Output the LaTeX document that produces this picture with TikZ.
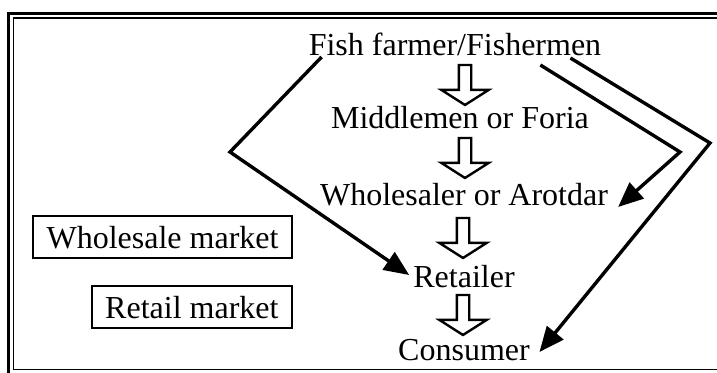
\documentclass[tikz,border=0pt]{standalone}
\usepackage{fontspec}
\setmainfont{Liberation Serif}
\usetikzlibrary{arrows.meta,shapes.arrows}

\tikzset{
  stage/.style={anchor=base,inner sep=0pt,font=\fontsize{32}{38}\selectfont},
  market/.style={draw,line width=2pt,anchor=base east,inner xsep=13.5pt,inner ysep=10pt,
    text height=22pt,text depth=0pt,font=\fontsize{32}{38}\selectfont},
  flow/.style={single arrow,draw,line width=2.4pt,shape border rotate=270,inner sep=5pt,
    minimum height=40pt,minimum width=47pt,single arrow head extend=17.5pt,single arrow tip angle=115},
  link/.style={line width=3.4pt,-{Triangle[length=25pt,width=21pt]}}
}

\begin{document}
\begin{tikzpicture}[x=1pt,y=-1pt]
  \useasboundingbox (0,0) rectangle (717,372);
  \draw[line width=3pt] (8.5,380) -- (8.5,13.5) -- (730,13.5);
  \draw[line width=1.8pt] (13.5,18) rectangle (730,369.5);
  \node[stage] (fish) at (455,55) {Fish farmer/Fishermen};
  \node[flow] (f1) at (465,83) {};
  \node[stage] (mid) at (460,128) {Middlemen or Foria};
  \node[flow] (f2) at (465,156) {};
  \node[stage] (whole) at (464,205) {Wholesaler or Arotdar};
  \node[flow] (f3) at (463,236) {};
  \node[stage] (ret) at (464,287) {Retailer};
  \node[flow] (f4) at (463,313) {};
  \node[stage] (cons) at (464,360) {Consumer};
  \node[market] (wm) at (293,248) {Wholesale market};
  \node[market] (rm) at (293,318) {Retail market};
  \coordinate (lbend) at (230,152);
  \coordinate (mbend) at (680,152);
  \coordinate (rbend) at (710,143);
  \draw[link] ([xshift=13pt,yshift=-2pt]fish.base west) -- (lbend) -- ([xshift=-4pt,yshift=12pt]ret.base west);
  \draw[link] ([xshift=-61pt,yshift=-10pt]fish.base east) -- (mbend) -- ([xshift=10pt,yshift=-2pt]whole.base east);
  \draw[link] ([xshift=-31pt,yshift=-3pt]fish.base east) -- (rbend) -- ([xshift=9.5pt,yshift=8pt]cons.base east);
\end{tikzpicture}
\end{document}
